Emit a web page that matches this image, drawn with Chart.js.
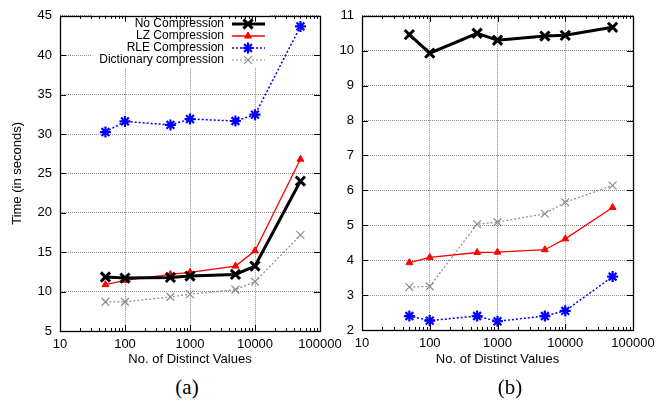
<!DOCTYPE html>
<html>
<head>
<meta charset="utf-8">
<script src="https://cdn.jsdelivr.net/npm/chart.js@4.4.0/dist/chart.umd.min.js"></script>
<style>
body { margin:0; background:#fff; width:668px; height:400px; position:relative; overflow:hidden; }
.panel { position:absolute; top:0; height:372px; }
.cap { position:absolute; top:375px; width:60px; text-align:center; font-family:"Liberation Serif","DejaVu Serif",serif; font-size:21px; }
</style>
</head>
<body>
<div class="panel" style="left:0;width:350px"><canvas id="chartA"></canvas></div>
<div class="panel" style="left:334px;width:334px"><canvas id="chartB"></canvas></div>
<div class="cap" style="left:157px">(a)</div>
<div class="cap" style="left:480px">(b)</div>
<script>
var distinct = [50, 100, 500, 1000, 5000, 10000, 50000];
var seriesNames = ['No Compression', 'LZ Compression', 'RLE Compression', 'Dictionary compression'];
var xTickLabels = ['10', '100', '1000', '10000', '100000'];

// panel (a)
var noCompA   = [11.85, 11.72, 11.8, 11.97, 12.18, 13.24, 24.03];
var lzA       = [10.88, 11.43, 12.18, 12.44, 13.24, 15.17, 26.8];
var rleA      = [30.25, 31.6, 31.15, 31.9, 31.65, 32.45, 43.65];
var dictA     = [8.7, 8.7, 9.33, 9.66, 10.25, 11.26, 17.18];

// panel (b)
var noCompB   = [10.46, 9.93, 10.5, 10.3, 10.42, 10.44, 10.67];
var lzB       = [3.93, 4.08, 4.22, 4.23, 4.30, 4.61, 5.51];
var rleB      = [2.40, 2.27, 2.40, 2.25, 2.40, 2.55, 3.53];
var dictB     = [3.23, 3.25, 5.03, 5.09, 5.33, 5.66, 6.14];

var FONT = 'Liberation Sans, Arial, sans-serif';

function pts(ys) {
  var out = [];
  for (var i = 0; i < distinct.length; i++) out.push({x: distinct[i], y: ys[i]});
  return out;
}

function makeSets(nc, lz, rle, dict) {
  return [
    {label: seriesNames[0], data: pts(nc), borderColor: '#000', backgroundColor: '#000', borderWidth: 3,
     pointStyle: 'crossRot', pointRadius: 6.5, pointBorderWidth: 3},
    {label: seriesNames[1], data: pts(lz), borderColor: '#ff0000', backgroundColor: '#ff0000', borderWidth: 1.3,
     pointStyle: 'triangle', pointRadius: 4, pointBorderWidth: 1},
    {label: seriesNames[2], data: pts(rle), borderColor: '#0000ff', backgroundColor: '#0000ff', borderWidth: 1.5,
     borderDash: [2, 2], pointStyle: 'star', pointRadius: 5.5, pointBorderWidth: 2.2},
    {label: seriesNames[3], data: pts(dict), borderColor: '#8c8c8c', backgroundColor: '#8c8c8c', borderWidth: 1.2,
     borderDash: [2, 2], pointStyle: 'crossRot', pointRadius: 5.5, pointBorderWidth: 1.2}
  ];
}

function isPow10(v) {
  var l = Math.log10(v);
  return Math.abs(l - Math.round(l)) < 1e-9;
}

// frame + inward tick marks like gnuplot
var framePlugin = {
  id: 'frame',
  afterDatasetsDraw: function(chart) {
    var ctx = chart.ctx, a = chart.chartArea;
    var xs = chart.scales.x, ys = chart.scales.y;
    ctx.save();
    ctx.strokeStyle = '#000';
    ctx.lineWidth = 1;
    ctx.setLineDash([]);
    ctx.beginPath();
    for (var e = 1; e <= 4; e++) {
      for (var m = 1; m <= 9; m++) {
        var px = Math.round(xs.getPixelForValue(m * Math.pow(10, e))) + 0.5;
        var len = m === 1 ? 6 : 3;
        ctx.moveTo(px, a.bottom); ctx.lineTo(px, a.bottom - len);
        ctx.moveTo(px, a.top); ctx.lineTo(px, a.top + len);
      }
    }
    ys.ticks.forEach(function(t) {
      var py = Math.round(ys.getPixelForValue(t.value)) + 0.5;
      ctx.moveTo(a.left, py); ctx.lineTo(a.left + 6, py);
      ctx.moveTo(a.right, py); ctx.lineTo(a.right - 6, py);
    });
    ctx.stroke();
    ctx.lineWidth = 1.3;
    ctx.strokeRect(Math.round(a.left) + 0.5, Math.round(a.top) + 0.5, Math.round(a.right - a.left), Math.round(a.bottom - a.top));
    ctx.restore();
  }
};

// gnuplot style key inside panel (a)
var keyPlugin = {
  id: 'key',
  afterDatasetsDraw: function(chart, args, opts) {
    if (!opts.show) return;
    var ctx = chart.ctx;
    ctx.save();
    ctx.fillStyle = '#fff';
    ctx.fillRect(92, 15, 178, 52);
    ctx.font = '12px ' + FONT;
    ctx.textAlign = 'right';
    ctx.textBaseline = 'middle';
    chart.data.datasets.forEach(function(ds, i) {
      var y = 24 + i * 12;
      ctx.fillStyle = '#000';
      ctx.fillText(ds.label, 224, y);
      ctx.strokeStyle = ds.borderColor;
      ctx.lineWidth = ds.borderWidth;
      ctx.setLineDash(ds.borderDash || []);
      ctx.beginPath(); ctx.moveTo(232, y); ctx.lineTo(265, y); ctx.stroke();
      ctx.setLineDash([]);
      ctx.fillStyle = ds.backgroundColor;
      ctx.lineWidth = ds.pointBorderWidth;
      Chart.helpers.drawPoint(ctx, {pointStyle: ds.pointStyle, radius: ds.pointRadius, rotation: 0, borderWidth: ds.pointBorderWidth}, 248, y);
    });
    ctx.restore();
  }
};

function makeChart(id, sets, ymin, ymax, step, yWidth, pad, xHeight, yTitle) {
  return new Chart(document.getElementById(id), {
    type: 'line',
    data: {datasets: sets},
    plugins: [keyPlugin, framePlugin],
    options: {
      responsive: true,
      maintainAspectRatio: false,
      animation: false,
      layout: {padding: pad},
      plugins: {legend: {display: false}, tooltip: {enabled: false}, key: {show: !!yTitle}},
      scales: {
        x: {
          type: 'logarithmic', min: 10, max: 100000,
          afterFit: function(s) { s.height = xHeight; },
          grid: {drawTicks: false, lineWidth: 1,
                 color: function(c) { return (c.tick && isPow10(c.tick.value)) ? '#8a8a8a' : 'rgba(0,0,0,0)'; }},
          border: {display: false, dash: [1, 1]},
          ticks: {autoSkip: false, maxRotation: 0, padding: 6, color: '#000', font: {family: FONT, size: 13},
                  callback: function(v) {
                    if (!isPow10(v)) return '';
                    var k = Math.round(Math.log10(v)) - 1;
                    return xTickLabels[k];
                  }},
          title: {display: true, text: 'No. of Distinct Values', color: '#000', font: {family: FONT, size: 13},
                  padding: {top: 0, bottom: 5}}
        },
        y: {
          min: ymin, max: ymax,
          afterFit: function(s) { s.width = yWidth; },
          grid: {drawTicks: false, color: '#8a8a8a', lineWidth: 1},
          border: {display: false, dash: [1, 1]},
          ticks: {stepSize: step, padding: 8, color: '#000', font: {family: FONT, size: 13}},
          title: {display: !!yTitle, text: yTitle || '', color: '#000', font: {family: FONT, size: 13},
                  padding: {top: 10, bottom: 0}}
        }
      }
    }
  });
}

makeChart('chartA', makeSets(noCompA, lzA, rleA, dictA), 5, 45, 5, 60,
  {top: 13, right: 30, left: 0, bottom: 0}, 41, 'Time (in seconds)');
makeChart('chartB', makeSets(noCompB, lzB, rleB, dictB), 2, 11, 1, 28,
  {top: 13, right: 35, left: 0, bottom: 0}, 42, null);
</script>
</body>
</html>
